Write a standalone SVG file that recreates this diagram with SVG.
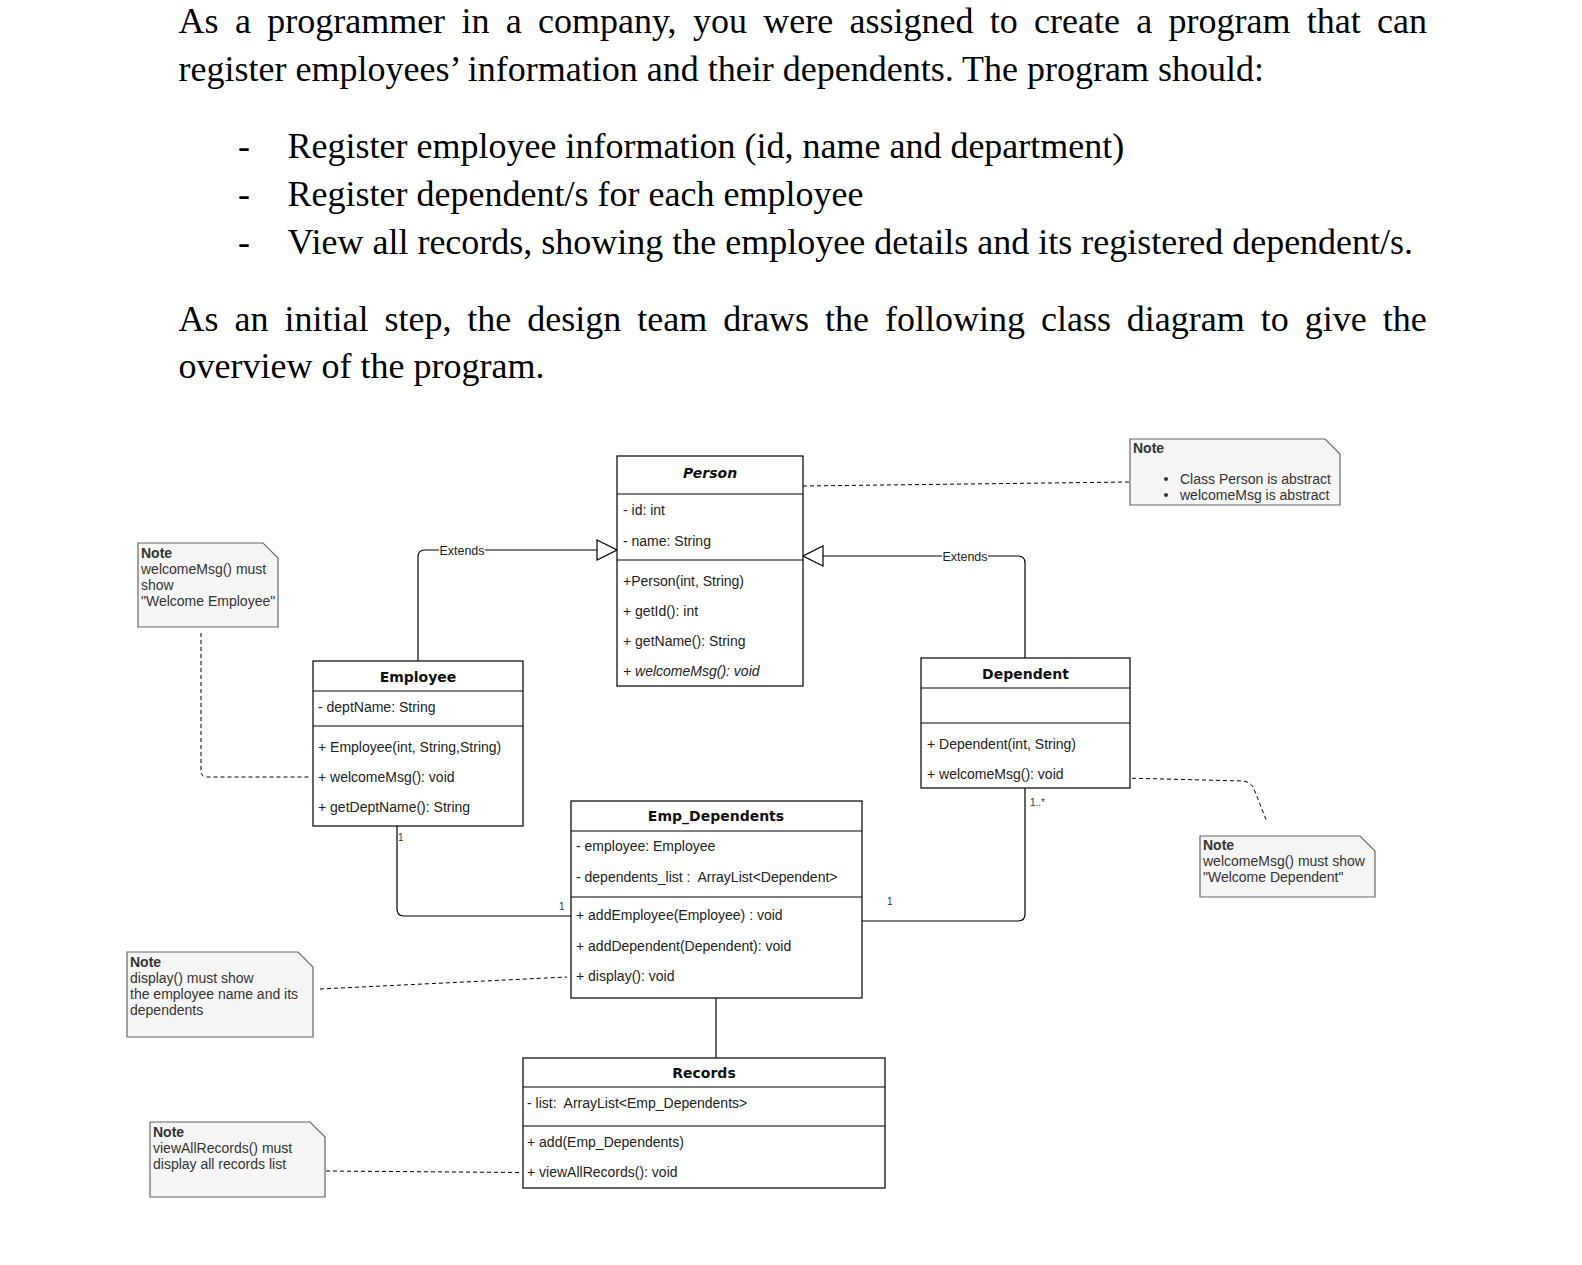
<svg xmlns="http://www.w3.org/2000/svg" width="1582" height="1265" viewBox="0 0 1582 1265">
<style>
.para{font-family:"Liberation Serif","Times New Roman",serif;font-size:36px;fill:#000}
.box{fill:#fff;stroke:#000;stroke-width:1.2}
.sep{stroke:#000;stroke-width:1.2}
.title{font-family:"DejaVu Sans",Verdana,sans-serif;font-weight:bold;font-size:14px;fill:#111;text-anchor:middle}
.t{font-family:"Liberation Sans",Arial,sans-serif;font-size:14px;fill:#222}
.note{fill:#f5f5f5;stroke:#666;stroke-width:1.2}
.nt{font-family:"Liberation Sans",Arial,sans-serif;font-size:14px;fill:#333}
.nb{font-weight:bold}
.edge{fill:none;stroke:#000;stroke-width:1.2}
.dash{fill:none;stroke:#000;stroke-width:1;stroke-dasharray:4 3}
.lbl{font-family:"Liberation Sans",Arial,sans-serif;font-size:12.5px;fill:#222;text-anchor:middle}
.mult{font-family:"Liberation Sans",Arial,sans-serif;font-size:10px;fill:#333}
</style>
<defs>
<marker id="tri" viewBox="0 0 22 22" refX="21" refY="11" markerWidth="22" markerHeight="22" markerUnits="userSpaceOnUse" orient="auto">
<path d="M1 1 L21 11 L1 21 Z" fill="#fff" stroke="#000" stroke-width="1.2"/>
</marker>
</defs>

<g id="intro">
<text class="para" x="178.6" y="33" style="word-spacing:7.3px">As a programmer in a company, you were assigned to create a program that can</text>
<text class="para" x="178.6" y="80.5">register employees’ information and their dependents. The program should:</text>
<text class="para" x="238" y="158">-</text>
<text class="para" x="287.6" y="158">Register employee information (id, name and department)</text>
<text class="para" x="238" y="205.5">-</text>
<text class="para" x="287.6" y="205.5">Register dependent/s for each employee</text>
<text class="para" x="238" y="253.5">-</text>
<text class="para" x="287.6" y="253.5">View all records, showing the employee details and its registered dependent/s.</text>
<text class="para" x="178.6" y="330.5" style="word-spacing:6.95px">As an initial step, the design team draws the following class diagram to give the</text>
<text class="para" x="178.6" y="378">overview of the program.</text>
</g>

<g id="connectors">
<path class="edge" d="M418 661 V557 Q418 550 425 550 H617" marker-end="url(#tri)"/>
<rect x="439" y="542" width="46" height="15" fill="#fff"/>
<text class="lbl" x="462" y="554.5">Extends</text>
<path class="edge" d="M1025 658 V563 Q1025 556 1018 556 H803" marker-end="url(#tri)"/>
<rect x="942" y="548" width="46" height="15" fill="#fff"/>
<text class="lbl" x="965" y="560.5">Extends</text>
<path class="edge" d="M397 826 V909 Q397 916 404 916 H571"/>
<text class="mult" x="398" y="841">1</text>
<text class="mult" x="559" y="910">1</text>
<path class="edge" d="M1025 788 V914 Q1025 921 1018 921 H862"/>
<text class="mult" x="1030" y="806">1..*</text>
<text class="mult" x="887" y="905">1</text>
<path class="edge" d="M716 998 V1058"/>
<path class="dash" d="M803 486 L1130 482"/>
<path class="dash" d="M201 633 V771 Q201 777 207 777 H309"/>
<path class="dash" d="M1083 777 L1243 781 Q1251 782 1254 789 L1267 822"/>
<path class="dash" d="M320 989 L567 977"/>
<path class="dash" d="M326 1171 L522 1172.5"/>
</g>

<g id="person">
<rect class="box" x="617" y="456" width="186" height="230"/>
<line class="sep" x1="617" y1="494" x2="803" y2="494"/>
<line class="sep" x1="617" y1="560" x2="803" y2="560"/>
<text class="title" x="710" y="478" font-style="italic">Person</text>
<text class="t" x="623" y="515">- id: int</text>
<text class="t" x="623" y="546">- name: String</text>
<text class="t" x="623" y="586">+Person(int, String)</text>
<text class="t" x="623" y="616">+ getId(): int</text>
<text class="t" x="623" y="646">+ getName(): String</text>
<text class="t" x="623" y="676" font-style="italic">+ welcomeMsg(): void</text>
</g>

<g id="employee">
<rect class="box" x="313" y="661" width="210" height="165"/>
<line class="sep" x1="313" y1="691" x2="523" y2="691"/>
<line class="sep" x1="313" y1="726" x2="523" y2="726"/>
<text class="title" x="418" y="682">Employee</text>
<text class="t" x="318" y="712">- deptName: String</text>
<text class="t" x="318" y="752">+ Employee(int, String,String)</text>
<text class="t" x="318" y="782">+ welcomeMsg(): void</text>
<text class="t" x="318" y="812">+ getDeptName(): String</text>
</g>

<g id="dependent">
<rect class="box" x="921" y="658" width="209" height="130"/>
<line class="sep" x1="921" y1="688" x2="1130" y2="688"/>
<line class="sep" x1="921" y1="723" x2="1130" y2="723"/>
<text class="title" x="1025.5" y="679">Dependent</text>
<text class="t" x="927" y="749">+ Dependent(int, String)</text>
<text class="t" x="927" y="779">+ welcomeMsg(): void</text>
</g>

<g id="emp_dependents">
<rect class="box" x="571" y="801" width="291" height="197"/>
<line class="sep" x1="571" y1="831" x2="862" y2="831"/>
<line class="sep" x1="571" y1="897" x2="862" y2="897"/>
<text class="title" x="716" y="821">Emp_Dependents</text>
<text class="t" x="576" y="851">- employee: Employee</text>
<text class="t" x="576" y="882" xml:space="preserve">- dependents_list :  ArrayList&lt;Dependent&gt;</text>
<text class="t" x="576" y="920">+ addEmployee(Employee) : void</text>
<text class="t" x="576" y="951">+ addDependent(Dependent): void</text>
<text class="t" x="576" y="981">+ display(): void</text>
</g>

<g id="records">
<rect class="box" x="523" y="1058" width="362" height="130"/>
<line class="sep" x1="523" y1="1087" x2="885" y2="1087"/>
<line class="sep" x1="523" y1="1126" x2="885" y2="1126"/>
<text class="title" x="704" y="1078">Records</text>
<text class="t" x="527" y="1108" xml:space="preserve">- list:  ArrayList&lt;Emp_Dependents&gt;</text>
<text class="t" x="527" y="1147">+ add(Emp_Dependents)</text>
<text class="t" x="527" y="1177">+ viewAllRecords(): void</text>
</g>

<g id="note-person">
<path class="note" d="M1130 439 H1325 L1340 454 V505 H1130 Z"/>
<text class="nt nb" x="1133" y="453">Note</text>
<circle cx="1166" cy="479" r="2" fill="#333"/>
<circle cx="1166" cy="495" r="2" fill="#333"/>
<text class="nt" x="1180" y="484">Class Person is abstract</text>
<text class="nt" x="1180" y="500">welcomeMsg is abstract</text>
</g>

<g id="note-employee">
<path class="note" d="M138 543 H263 L278 558 V627 H138 Z"/>
<text class="nt nb" x="141" y="558">Note</text>
<text class="nt" x="141" y="574">welcomeMsg() must</text>
<text class="nt" x="141" y="590">show</text>
<text class="nt" x="141" y="606">"Welcome Employee"</text>
</g>

<g id="note-dependent">
<path class="note" d="M1200 836 H1360 L1375 851 V897 H1200 Z"/>
<text class="nt nb" x="1203" y="850">Note</text>
<text class="nt" x="1203" y="866">welcomeMsg() must show</text>
<text class="nt" x="1203" y="882">"Welcome Dependent"</text>
</g>

<g id="note-display">
<path class="note" d="M127 952 H298 L313 967 V1037 H127 Z"/>
<text class="nt nb" x="130" y="967">Note</text>
<text class="nt" x="130" y="983">display() must show</text>
<text class="nt" x="130" y="999">the employee name and its</text>
<text class="nt" x="130" y="1015">dependents</text>
</g>

<g id="note-records">
<path class="note" d="M150 1122 H310 L325 1137 V1197 H150 Z"/>
<text class="nt nb" x="153" y="1137">Note</text>
<text class="nt" x="153" y="1153">viewAllRecords() must</text>
<text class="nt" x="153" y="1169">display all records list</text>
</g>
</svg>
